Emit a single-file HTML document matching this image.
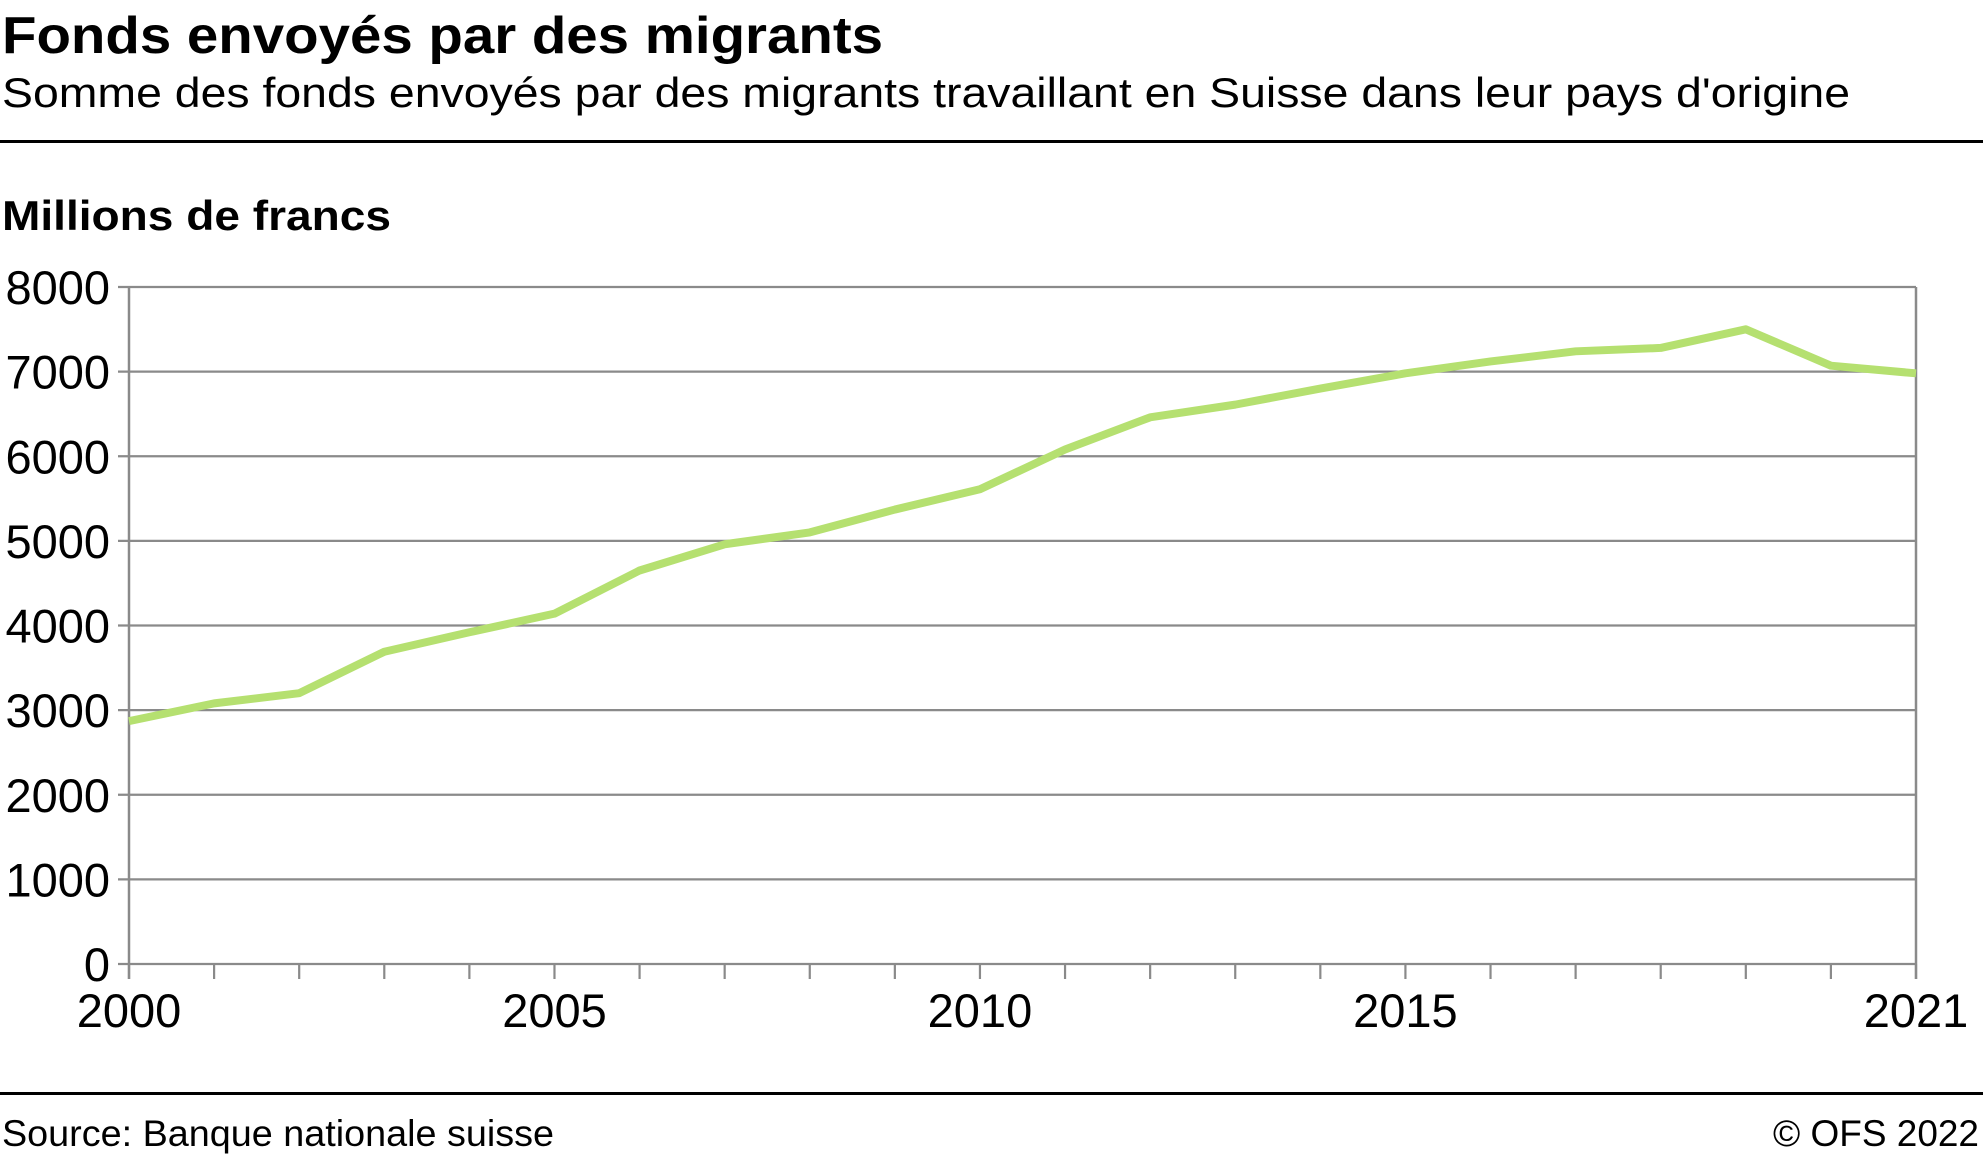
<!DOCTYPE html>
<html><head><meta charset="utf-8"><style>
html,body{margin:0;padding:0;background:#fff;}
svg{display:block;font-family:"Liberation Sans",Arial,sans-serif;}
</style></head><body>
<svg id="chart" width="1983" height="1161" viewBox="0 0 1983 1161">
<text x="2" y="53" font-size="52" font-weight="bold" textLength="881" lengthAdjust="spacingAndGlyphs">Fonds envoyés par des migrants</text>
<text x="2" y="107" font-size="42" textLength="1848" lengthAdjust="spacingAndGlyphs">Somme des fonds envoyés par des migrants travaillant en Suisse dans leur pays d'origine</text>
<rect x="0" y="140" width="1983" height="3" fill="#000"/>
<text x="2" y="230" font-size="42" font-weight="bold" textLength="389" lengthAdjust="spacingAndGlyphs">Millions de francs</text>
<g id="grid"></g>
<g id="series"></g>
<rect x="0" y="1092" width="1983" height="3" fill="#000"/>
<text x="2" y="1146" font-size="37" textLength="552" lengthAdjust="spacingAndGlyphs">Source: Banque nationale suisse</text>
<text x="1979" y="1146" font-size="37" text-anchor="end" textLength="206" lengthAdjust="spacingAndGlyphs">© OFS 2022</text>
</svg>
<script>
const years = [2000,2001,2002,2003,2004,2005,2006,2007,2008,2009,2010,2011,2012,2013,2014,2015,2016,2017,2018,2019,2020,2021];
const values = [2870,3080,3200,3690,3920,4140,4650,4960,5100,5370,5610,6080,6460,6610,6800,6980,7120,7240,7280,7500,7070,6980];
const yTicks = [0,1000,2000,3000,4000,5000,6000,7000,8000];
const xLabels = [2000,2005,2010,2015,2021];

const NS='http://www.w3.org/2000/svg';
const X0=129,X1=1916,Y0=964,Y1=287;
const xs=y=>X0+(y-2000)/(2021-2000)*(X1-X0);
const ys=v=>Y0-(v-0)/(8000-0)*(Y0-Y1);
const grid=document.getElementById('grid'), series=document.getElementById('series');
function mk(tag,attrs,parent){const e=document.createElementNS(NS,tag);for(const k in attrs)e.setAttribute(k,attrs[k]);parent.appendChild(e);return e;}
yTicks.forEach(v=>{
  const l=mk('line',{x1:118,x2:X1,y1:ys(v),y2:ys(v),stroke:'#8a8a8a','stroke-width':2.2},grid);
  
  
  const t=mk('text',{x:110,y:ys(v)+17,'font-size':47,'text-anchor':'end'},grid);
  t.textContent=v;
  
  
});
const ax=mk('line',{x1:X0,x2:X0,y1:Y1,y2:Y0+15,stroke:'#8a8a8a','stroke-width':2.5},grid);


const rax=mk('line',{x1:X1,x2:X1,y1:Y1,y2:Y0+15,stroke:'#8a8a8a','stroke-width':2.5},grid);


years.forEach(y=>{
  const tk=mk('line',{x1:xs(y),x2:xs(y),y1:Y0,y2:Y0+15,stroke:'#8a8a8a','stroke-width':2.2},grid);
  
  
});
xLabels.forEach(y=>{
  const t=mk('text',{x:xs(y),y:1027,'font-size':47,'text-anchor':'middle'},grid);
  t.textContent=y;
  
  
});
const pts=years.map((y,i)=>xs(y)+','+ys(values[i])).join(' ');
const pl=mk('polyline',{points:pts,fill:'none',stroke:'#b5e070','stroke-width':8,'stroke-linejoin':'round'},series);


</script>
</body></html>
